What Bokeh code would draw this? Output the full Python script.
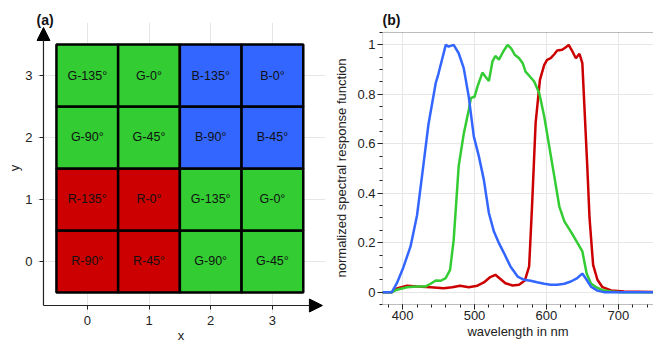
from bokeh.plotting import figure
from bokeh.layouts import row
from bokeh.models import Arrow, NormalHead, ColumnDataSource, FixedTicker, BoxAnnotation
from bokeh.core.properties import value
from bokeh.embed import file_html
from bokeh.resources import INLINE

FONT = "Liberation Sans"

# ---------------- data: panel (a) ----------------
tile_x = [0, 1, 2, 3]
tile_y = [0, 1, 2, 3]
tile_labels = [
    ["R-90°", "R-45°", "G-90°", "G-45°"],    # y = 0
    ["R-135°", "R-0°", "G-135°", "G-0°"],    # y = 1
    ["G-90°", "G-45°", "B-90°", "B-45°"],    # y = 2
    ["G-135°", "G-0°", "B-135°", "B-0°"],    # y = 3
]
channel_colors = {"R": "#cc0000", "G": "#33cc33", "B": "#3366ff"}

# ---------------- data: panel (b) ----------------
blue_wl = [372, 385, 392, 401, 411, 420, 427, 436, 446, 450, 460, 464, 471, 478, 485,
           492, 499, 506, 513, 520, 527, 534, 541, 550, 560, 569, 578, 587, 597, 606,
           615, 625, 634, 643, 650, 656, 662, 671, 680, 750]
blue_val = [0, 0, 0.036, 0.10, 0.185, 0.31, 0.47, 0.68, 0.845, 0.885, 1.0, 0.993, 1.0, 0.966, 0.906,
            0.79, 0.63, 0.55, 0.454, 0.32, 0.245, 0.198, 0.158, 0.104, 0.063, 0.05, 0.046, 0.04, 0.034, 0.03,
            0.03, 0.034, 0.043, 0.057, 0.075, 0.05, 0.022, 0.006, 0, 0]

green_wl = [372, 385, 392, 406, 420, 432, 439, 446, 453, 460, 466, 471, 478, 485, 492,
            495, 500, 504, 511, 515, 520, 525, 529, 534, 540, 546, 551, 556, 562, 567,
            571, 577, 583, 590, 597, 604, 611, 618, 625, 634, 643, 650, 656, 662, 669,
            678, 690, 704, 750]
green_val = [0, 0, 0.01, 0.02, 0.023, 0.023, 0.034, 0.047, 0.046, 0.057, 0.09, 0.21, 0.51, 0.64, 0.737,
             0.785, 0.79, 0.83, 0.888, 0.872, 0.854, 0.933, 0.955, 0.94, 0.973, 1.0, 0.986, 0.96, 0.946, 0.926,
             0.892, 0.872, 0.852, 0.805, 0.71, 0.589, 0.468, 0.346, 0.286, 0.245, 0.2, 0.165, 0.075, 0.035, 0.02,
             0.008, 0.003, 0, 0]

red_wl = [372, 385, 392, 406, 420, 439, 457, 469, 480, 492, 504, 513, 522, 529, 536,
          543, 553, 562, 570, 576, 580, 585, 591, 597, 601, 606, 611, 615, 622, 627,
          631, 635, 641, 646, 650, 657, 660, 665, 671, 678, 690, 708, 750]
red_val = [0, 0, 0.015, 0.026, 0.023, 0.02, 0.016, 0.02, 0.026, 0.02, 0.026, 0.039, 0.061, 0.07, 0.053,
           0.036, 0.027, 0.03, 0.047, 0.104, 0.346, 0.683, 0.858, 0.919, 0.939, 0.946, 0.962, 0.977, 0.98, 0.99,
           1.0, 0.98, 0.946, 0.964, 0.926, 0.5, 0.3, 0.11, 0.05, 0.02, 0.007, 0.003, 0]

x_ticks_b = [400, 500, 600, 700]
y_ticks_b = [0, 0.2, 0.4, 0.6, 0.8, 1]
y_tick_labels_b = {0: "0", 0.2: "0.2", 0.4: "0.4", 0.6: "0.6", 0.8: "0.8", 1: "1"}
x_lim_b = (372, 749)
y_lim_b = (-0.05, 1.05)

DARK = "#222222"


def style_axes(p):
    for ax in (p.xaxis[0], p.yaxis[0]):
        ax.major_label_text_font = FONT
        ax.major_label_text_font_size = "13px"
        ax.major_label_text_color = DARK
        ax.axis_label_text_font = FONT
        ax.axis_label_text_font_size = "13px"
        ax.axis_label_text_font_style = "normal"
        ax.axis_label_text_color = DARK
        ax.major_tick_line_color = DARK
        ax.minor_tick_line_color = DARK
        ax.axis_line_color = None
    p.title.text_font = FONT
    p.title.text_font_size = "14px"
    p.title.text_font_style = "bold"
    p.title.text_color = "#111111"
    p.title.align = "left"
    p.title.standoff = -11


# ---------------- panel (a) ----------------
xs, ys, labels, colors = [], [], [], []
for j, yv in enumerate(tile_y):
    for i, xv in enumerate(tile_x):
        lab = tile_labels[j][i]
        xs.append(xv)
        ys.append(yv)
        labels.append(lab)
        colors.append(channel_colors[lab[0]])
src = ColumnDataSource(dict(x=xs, y=ys, label=labels, color=colors))

AX0 = -0.71        # position of the arrow axes (data units)
X_ARROW_END = 3.81
Y_ARROW_END = 3.774

pa = figure(width=330, height=345, x_range=(-0.823, 3.86), y_range=(-0.839, 3.855),
            output_backend="svg", toolbar_location=None,
            min_border_left=36, min_border_right=5, min_border_top=22, min_border_bottom=32,
            title="(a)")
pa.outline_line_color = None
pa.rect(x="x", y="y", width=1, height=1, source=src, fill_color="color",
        line_color="black", line_width=2.5)
pa.text(x="x", y="y", text="label", source=src, text_align="center", text_baseline="middle",
        text_font=value(FONT), text_font_size="12.5px", text_color="#111111")
pa.xaxis.ticker = FixedTicker(ticks=tile_x)
pa.yaxis.ticker = FixedTicker(ticks=tile_y)
pa.xaxis.axis_label = "x"
pa.yaxis.axis_label = "y"
style_axes(pa)
for ax in (pa.xaxis[0], pa.yaxis[0]):
    ax.minor_tick_line_color = None
# ticks drawn at the arrow-axis position, just inside the frame edge
pa.xaxis.major_tick_in = 8
pa.xaxis.major_tick_out = -4
pa.xaxis.minor_tick_in = 8
pa.xaxis.minor_tick_out = -4
pa.xaxis.major_label_standoff = 2
pa.xaxis.axis_label_standoff = 0
pa.yaxis.major_tick_in = 7
pa.yaxis.major_tick_out = -3
pa.yaxis.minor_tick_in = 7
pa.yaxis.minor_tick_out = -3
pa.yaxis.major_label_standoff = 4
pa.yaxis.axis_label_standoff = 0
pa.xgrid.grid_line_color = "#e6e6e6"
pa.ygrid.grid_line_color = "#e6e6e6"
pa.xgrid.level = "image"
pa.ygrid.level = "image"
pa.add_layout(Arrow(end=NormalHead(size=13, fill_color="black", line_color="black"),
                    x_start=AX0, y_start=AX0, x_end=X_ARROW_END, y_end=AX0,
                    line_color=DARK, line_width=1.2))
pa.add_layout(Arrow(end=NormalHead(size=13, fill_color="black", line_color="black"),
                    x_start=AX0, y_start=AX0, x_end=AX0, y_end=Y_ARROW_END,
                    line_color=DARK, line_width=1.2))

# ---------------- panel (b) ----------------
pb = figure(width=323, height=345, x_range=(372, 749), y_range=(-0.0864, 1.0904),
            output_backend="svg", toolbar_location=None,
            min_border_left=52, min_border_right=0, min_border_top=22, min_border_bottom=32,
            title="(b)")
pb.outline_line_color = None
pb.xgrid.grid_line_color = "#e6e6e6"
pb.ygrid.grid_line_color = "#e6e6e6"
pb.xgrid.level = "image"
pb.ygrid.level = "image"
# white strips hiding the grid outside the plotting box
pb.add_layout(BoxAnnotation(bottom=y_lim_b[1], top=2, fill_color="white", fill_alpha=1,
                            line_color=None, level="underlay"))
pb.add_layout(BoxAnnotation(bottom=-1, top=y_lim_b[0], fill_color="white", fill_alpha=1,
                            line_color=None, level="underlay"))
pb.line(red_wl, red_val, line_color="#cc0000", line_width=2.5)
pb.line(green_wl, green_val, line_color="#33cc33", line_width=2.5)
pb.line(blue_wl, blue_val, line_color="#3366ff", line_width=2.5)
pb.add_layout(BoxAnnotation(left=x_lim_b[0], right=800, bottom=y_lim_b[0], top=y_lim_b[1],
                            fill_color=None, line_color=DARK, line_width=1.2))
pb.xaxis.ticker = FixedTicker(ticks=x_ticks_b, minor_ticks=list(range(380, 750, 20)))
pb.yaxis.ticker = FixedTicker(ticks=y_ticks_b,
                              minor_ticks=[round(-0.05 + 0.05 * k, 2) for k in range(23)])
pb.yaxis.major_label_overrides = y_tick_labels_b
pb.xaxis.axis_label = "wavelength in nm"
pb.yaxis.axis_label = "normalized spectral response function"
style_axes(pb)
pb.xaxis.major_tick_in = 9
pb.xaxis.major_tick_out = -4
pb.xaxis.minor_tick_in = 9
pb.xaxis.minor_tick_out = -6
pb.xaxis.major_label_standoff = 1
pb.xaxis.axis_label_standoff = 1
pb.yaxis.major_tick_in = 0
pb.yaxis.major_tick_out = 5
pb.yaxis.minor_tick_in = 0
pb.yaxis.minor_tick_out = 3
pb.yaxis.major_label_standoff = 2
pb.yaxis.axis_label_standoff = 5

layout = row(pa, pb)
open("out.html", "w").write(file_html(layout, INLINE))
